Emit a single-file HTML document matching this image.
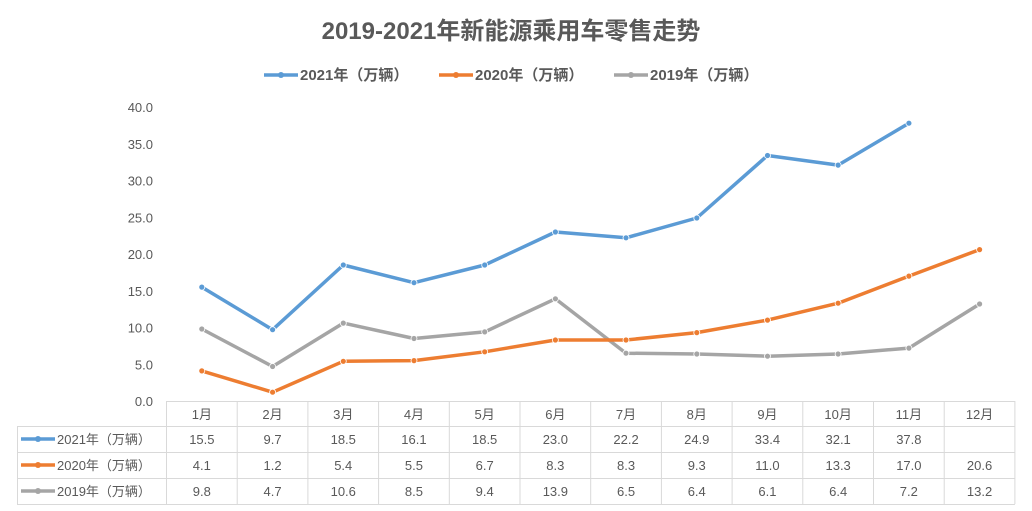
<!DOCTYPE html>
<html><head><meta charset="utf-8"><style>
html,body{margin:0;padding:0;background:#fff;}
svg{display:block;font-family:"Liberation Sans","Noto Sans CJK SC",sans-serif;}
</style></head><body>
<svg id="s" width="1032" height="511" viewBox="0 0 1032 511" xmlns="http://www.w3.org/2000/svg">
<text x="511" y="39" text-anchor="middle" font-size="24" font-weight="bold" fill="#595959">2019-2021年新能源乘用车零售走势</text>
<g font-size="15" font-weight="bold" fill="#595959">
<line x1="264" y1="75" x2="298" y2="75" stroke="#5b9bd5" stroke-width="3.5"/><circle cx="281" cy="75" r="3" fill="#5b9bd5"/>
<text x="300" y="80">2021年（万辆）</text>
<line x1="439" y1="75" x2="473" y2="75" stroke="#ed7d31" stroke-width="3.5"/><circle cx="456" cy="75" r="3" fill="#ed7d31"/>
<text x="475" y="80">2020年（万辆）</text>
<line x1="614" y1="75" x2="648" y2="75" stroke="#a5a5a5" stroke-width="3.5"/><circle cx="631" cy="75" r="3" fill="#a5a5a5"/>
<text x="650" y="80">2019年（万辆）</text>
</g>
<g id="g"></g>
</svg>
<script>
var g=document.getElementById('g'),h='';
var L=166.5,W=70.7,R=L+12*W,top0=401,sc=7.35;
for(var i=0;i<=8;i++){var v=i*5,y=top0-v*sc;h+='<text x="153" y="'+(y+5)+'" text-anchor="end" font-size="13" fill="#595959">'+v.toFixed(1)+'</text>';}
var rows=[401,426,452,478,504];
h+='<g stroke="#d9d9d9" stroke-width="1" fill="none">';
h+='<line x1="'+L+'" y1="401.5" x2="'+R+'" y2="401.5"/>';
for(var r=1;r<5;r++)h+='<line x1="17" y1="'+(rows[r]+.5)+'" x2="'+R+'" y2="'+(rows[r]+.5)+'"/>';
h+='<line x1="17.5" y1="426" x2="17.5" y2="504"/>';
for(var c=0;c<=12;c++){var x=L+c*W;h+='<line x1="'+x+'" y1="401" x2="'+x+'" y2="504"/>';}
h+='</g>';
var names=['2021年（万辆）','2020年（万辆）','2019年（万辆）'],cols=['#5b9bd5','#ed7d31','#a5a5a5'];
var data=[[15.5,9.7,18.5,16.1,18.5,23.0,22.2,24.9,33.4,32.1,37.8,null],[4.1,1.2,5.4,5.5,6.7,8.3,8.3,9.3,11.0,13.3,17.0,20.6],[9.8,4.7,10.6,8.5,9.4,13.9,6.5,6.4,6.1,6.4,7.2,13.2]];
for(var c=0;c<12;c++)h+='<text x="'+(L+(c+.5)*W)+'" y="419" text-anchor="middle" font-size="13" fill="#595959">'+(c+1)+'月</text>';
for(var s=2;s>=0;s--){var pts=[];data[s].forEach(function(v,c){if(v!=null)pts.push((L+(c+.5)*W).toFixed(1)+','+(top0-v*sc).toFixed(1));});
h+='<polyline points="'+pts.join(' ')+'" fill="none" stroke="'+cols[s]+'" stroke-width="3.5" stroke-linejoin="round" stroke-linecap="round"/>';
pts.forEach(function(p){var a=p.split(',');h+='<circle cx="'+a[0]+'" cy="'+a[1]+'" r="3" fill="'+cols[s]+'" stroke="#fff" stroke-width="0.8"/>';});}
for(var s=0;s<3;s++){var y=rows[s+1]+13;
h+='<line x1="21" y1="'+y+'" x2="55" y2="'+y+'" stroke="'+cols[s]+'" stroke-width="3.5"/><circle cx="38" cy="'+y+'" r="3" fill="'+cols[s]+'"/>';
h+='<text x="57" y="'+(y+5)+'" font-size="13" fill="#595959">'+names[s]+'</text>';
data[s].forEach(function(v,c){if(v!=null)h+='<text x="'+(L+(c+.5)*W)+'" y="'+(y+5)+'" text-anchor="middle" font-size="13" fill="#595959">'+v.toFixed(1)+'</text>';});}
g.innerHTML=h;
</script>
</body></html>
